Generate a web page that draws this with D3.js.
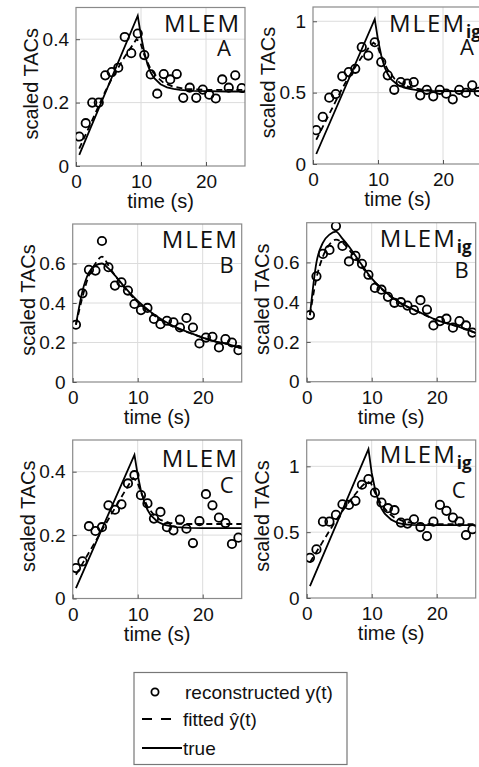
<!DOCTYPE html>
<html><head><meta charset="utf-8">
<script src="https://cdn.jsdelivr.net/npm/d3@7"></script>
<style>
html,body{margin:0;padding:0;background:#fff;overflow:hidden;}
svg{display:block;}
</style></head>
<body>
<svg id="chart" width="479" height="767"></svg>
<script>
// ---------- DATA ----------
const frameTimes = [0.5,1.5,2.5,3.5,4.5,5.5,6.5,7.5,8.5,9.5,10.5,11.5,12.5,13.5,14.5,15.5,16.5,17.5,18.5,19.5,20.5,21.5,22.5,23.5,24.5,25.5];
const xTicks = [0,10,20];

// reconstructed y(t)
const reconA_MLEM   = [0.093,0.135,0.20,0.20,0.286,0.296,0.31,0.407,0.356,0.418,0.35,0.289,0.228,0.29,0.273,0.29,0.215,0.247,0.215,0.241,0.225,0.213,0.273,0.247,0.286,0.246];
const reconA_MLEMig = [0.237,0.33,0.465,0.49,0.614,0.644,0.667,0.819,0.76,0.853,0.714,0.621,0.52,0.574,0.563,0.574,0.481,0.52,0.474,0.52,0.493,0.453,0.52,0.498,0.551,0.505];
const reconB_MLEM   = [0.29,0.449,0.568,0.564,0.714,0.581,0.488,0.505,0.463,0.395,0.364,0.375,0.319,0.293,0.31,0.302,0.276,0.324,0.276,0.195,0.225,0.229,0.175,0.217,0.2,0.161];
const reconB_MLEMig = [0.335,0.53,0.643,0.663,0.783,0.683,0.605,0.633,0.593,0.538,0.472,0.463,0.427,0.397,0.40,0.383,0.36,0.41,0.363,0.283,0.305,0.317,0.272,0.305,0.283,0.247];
const reconC_MLEM   = [0.096,0.117,0.228,0.213,0.225,0.294,0.28,0.297,0.363,0.389,0.326,0.30,0.252,0.273,0.225,0.215,0.249,0.22,0.175,0.244,0.329,0.294,0.255,0.238,0.172,0.192];
const reconC_MLEMig = [0.305,0.369,0.58,0.58,0.631,0.712,0.707,0.738,0.86,0.903,0.80,0.725,0.682,0.667,0.573,0.565,0.598,0.539,0.47,0.58,0.707,0.662,0.611,0.58,0.478,0.522];

// true curves (sharp peak for A and C)
const trueTimesAC = [0.5,9.5,10,10.5,11,11.5,12,13,14,15,16,18,20,23,26];
const trueA_MLEM   = [0.035,0.474,0.41,0.36,0.32,0.295,0.278,0.258,0.248,0.243,0.240,0.237,0.236,0.235,0.235];
const trueA_MLEMig = [0.07,1.015,0.87,0.76,0.68,0.63,0.595,0.555,0.535,0.525,0.518,0.512,0.51,0.51,0.51];
const trueC_MLEM   = [0.033,0.453,0.39,0.34,0.305,0.28,0.263,0.243,0.233,0.228,0.225,0.223,0.222,0.222,0.222];
const trueC_MLEMig = [0.09,1.13,0.95,0.83,0.74,0.68,0.64,0.595,0.57,0.56,0.556,0.553,0.553,0.553,0.553];
// B curves (smooth peak)
const curveTimesB = [0.5,1.5,2.5,3.5,4.5,5.5,6.5,8,10,12,14,16,18,20,22,24,26];
const trueB_MLEM    = [0.29,0.46,0.555,0.59,0.60,0.575,0.54,0.48,0.41,0.355,0.31,0.275,0.25,0.225,0.205,0.19,0.17];
const trueB_MLEMig  = [0.335,0.60,0.70,0.74,0.755,0.72,0.68,0.61,0.52,0.455,0.405,0.37,0.34,0.31,0.29,0.27,0.245];
const fitB_MLEM     = [0.29,0.43,0.54,0.60,0.635,0.59,0.54,0.475,0.405,0.35,0.305,0.272,0.248,0.225,0.205,0.19,0.17];
const fitB_MLEMig   = [0.335,0.52,0.63,0.69,0.715,0.70,0.665,0.60,0.515,0.452,0.403,0.368,0.338,0.31,0.29,0.27,0.245];
// fitted curves A and C
const fitTimesAC = [0.5,1.5,2.5,3.5,4.5,5.5,6.5,7.5,8.5,9.3,9.9,10.5,11.5,12.5,13.5,15,17,20,23,26];
const fitA_MLEM   = [0.055,0.10,0.145,0.19,0.235,0.275,0.31,0.345,0.375,0.40,0.39,0.35,0.305,0.28,0.262,0.25,0.243,0.24,0.24,0.24];
const fitA_MLEMig = [0.17,0.26,0.35,0.44,0.53,0.61,0.68,0.75,0.81,0.85,0.83,0.75,0.66,0.60,0.565,0.535,0.52,0.512,0.51,0.51];
const fitC_MLEM   = [0.075,0.11,0.145,0.18,0.215,0.25,0.285,0.32,0.355,0.38,0.37,0.335,0.29,0.263,0.248,0.238,0.235,0.235,0.235,0.235];
const fitC_MLEMig = [0.27,0.35,0.43,0.51,0.59,0.66,0.73,0.79,0.85,0.885,0.87,0.80,0.71,0.65,0.61,0.58,0.565,0.56,0.56,0.56];

const yTicksSmall = [0,0.2,0.4];
const yTicksB = [0,0.2,0.4,0.6];
const yTicksBig = [0,0.5,1];
const legendLabels = ["reconstructed y(t)", "fitted ŷ(t)", "true"];

// ---------- PANELS ----------
const panels = [
  {method:"MLEM", ig:false, letter:"A", left:76,    top:7.5,   bottom:166,   ymax:0.5,  yt:yTicksSmall, recon:reconA_MLEM,   tT:trueTimesAC, tV:trueA_MLEM,   fT:fitTimesAC, fV:fitA_MLEM,   smooth:false, tdx:88, tdy:24, ldx:148, ldy:48},
  {method:"MLEM", ig:true,  letter:"A", left:313,   top:7,     bottom:164,   ymax:1.1,  yt:yTicksBig,   recon:reconA_MLEMig, tT:trueTimesAC, tV:trueA_MLEMig, fT:fitTimesAC, fV:fitA_MLEMig, smooth:false, tdx:76, tdy:25, ldx:154, ldy:48},
  {method:"MLEM", ig:false, letter:"B", left:72.7,  top:224,   bottom:382,   ymax:0.8,  yt:yTicksB,     recon:reconB_MLEM,   tT:curveTimesB, tV:trueB_MLEM,   fT:curveTimesB, fV:fitB_MLEM,  smooth:true,  tdx:89, tdy:24, ldx:154, ldy:49},
  {method:"MLEM", ig:true,  letter:"B", left:306.7, top:222.7, bottom:381.7, ymax:0.8,  yt:yTicksB,     recon:reconB_MLEMig, tT:curveTimesB, tV:trueB_MLEMig, fT:curveTimesB, fV:fitB_MLEMig, smooth:true, tdx:73, tdy:24, ldx:155, ldy:55},
  {method:"MLEM", ig:false, letter:"C", left:72.7,  top:440,   bottom:598.5, ymax:0.5,  yt:yTicksSmall, recon:reconC_MLEM,   tT:trueTimesAC, tV:trueC_MLEM,   fT:fitTimesAC, fV:fitC_MLEM,   smooth:false, tdx:89, tdy:27, ldx:154, ldy:53},
  {method:"MLEM", ig:true,  letter:"C", left:306.7, top:440,   bottom:598,   ymax:1.2,  yt:yTicksBig,   recon:reconC_MLEMig, tT:trueTimesAC, tV:trueC_MLEMig, fT:fitTimesAC, fV:fitC_MLEMig, smooth:false, tdx:73, tdy:23, ldx:152, ldy:58}
];

const svg = d3.select("#chart");
const PW = 169;
const tickFont = "Liberation Sans, Arial, sans-serif";

panels.forEach((p, i) => {
  const x = d3.scaleLinear().domain([0,26]).range([p.left, p.left + PW]);
  const y = d3.scaleLinear().domain([0,p.ymax]).range([p.bottom, p.top]);
  const g = svg.append("g");
  const clipId = "clip" + i;
  svg.append("clipPath").attr("id", clipId).append("rect")
    .attr("x", p.left).attr("y", p.top).attr("width", PW).attr("height", p.bottom - p.top);

  // grid
  g.append("g").selectAll("line").data(xTicks.filter(d => d > 0)).join("line")
    .attr("x1", d => x(d)).attr("x2", d => x(d)).attr("y1", p.top).attr("y2", p.bottom)
    .attr("stroke", "#dcdcdc").attr("stroke-width", 1);
  g.append("g").selectAll("line").data(p.yt.filter(d => d > 0)).join("line")
    .attr("x1", p.left).attr("x2", p.left + PW).attr("y1", d => y(d)).attr("y2", d => y(d))
    .attr("stroke", "#dcdcdc").attr("stroke-width", 1);

  // box
  g.append("rect").attr("x", p.left).attr("y", p.top).attr("width", PW).attr("height", p.bottom - p.top)
    .attr("fill", "none").attr("stroke", "#8a8a8a").attr("stroke-width", 1.2);

  // axes (tick labels via d3 axes)
  const yAxis = d3.axisLeft(y).tickValues(p.yt).tickSize(-4).tickPadding(7).tickFormat(d3.format("~g"));
  const ya = g.append("g").attr("transform", `translate(${p.left},0)`).call(yAxis);
  ya.select(".domain").remove();
  ya.selectAll(".tick line").attr("stroke", "#555");
  ya.selectAll("text").attr("font-family", tickFont).attr("font-size", 19).attr("fill", "#111");

  const xAxis = d3.axisBottom(x).tickValues(xTicks).tickSize(-4).tickPadding(9).tickFormat(d3.format("d"));
  const xa = g.append("g").attr("transform", `translate(0,${p.bottom})`).call(xAxis);
  xa.select(".domain").remove();
  xa.selectAll(".tick line").attr("stroke", "#555");
  xa.selectAll("text").attr("font-family", tickFont).attr("font-size", 19).attr("fill", "#111");

  // axis labels
  g.append("text").attr("x", (p.left + p.left + PW) / 2).attr("y", p.bottom + 42)
    .attr("text-anchor", "middle").attr("font-family", tickFont).attr("font-size", 20).attr("fill", "#111")
    .text("time (s)");
  const ly = (p.top + p.bottom) / 2 - 3;
  g.append("text").attr("transform", `translate(${p.left - 38},${ly}) rotate(-90)`)
    .attr("text-anchor", "middle").attr("font-family", tickFont).attr("font-size", 20).attr("fill", "#111")
    .text("scaled TACs");

  // curves
  const data = g.append("g").attr("clip-path", `url(#${clipId})`);
  const line = d3.line().x(d => x(d[0])).y(d => y(d[1]))
    .curve(p.smooth ? d3.curveMonotoneX : d3.curveLinear);
  data.append("path").datum(p.fT.map((t, k) => [t, p.fV[k]]))
    .attr("d", line).attr("fill", "none").attr("stroke", "#000").attr("stroke-width", 1.8)
    .attr("stroke-dasharray", "6,4");
  data.append("path").datum(p.tT.map((t, k) => [t, p.tV[k]]))
    .attr("d", line).attr("fill", "none").attr("stroke", "#000").attr("stroke-width", 1.8);
  data.selectAll("circle").data(frameTimes.map((t, k) => [t, p.recon[k]])).join("circle")
    .attr("cx", d => x(d[0])).attr("cy", d => y(d[1])).attr("r", 4.2)
    .attr("fill", "none").attr("stroke", "#000").attr("stroke-width", 1.8);

  // title
  const tt = g.append("text").attr("x", p.left + p.tdx).attr("y", p.top + p.tdy)
    .attr("font-family", "Open Sans, sans-serif").attr("font-size", 24).attr("letter-spacing", 2)
    .attr("fill", "#111");
  tt.append("tspan").text(p.method);
  if (p.ig) {
    tt.append("tspan").attr("dy", 6).attr("font-size", 17).attr("font-weight", "bold")
      .attr("letter-spacing", 0).text("ig");
  }
  g.append("text").attr("x", p.left + p.ldx).attr("y", p.top + p.ldy).attr("text-anchor", "middle")
    .attr("font-family", "Open Sans, sans-serif").attr("font-size", 22).attr("fill", "#111")
    .text(p.letter);
});

// ---------- LEGEND ----------
const lg = svg.append("g");
lg.append("rect").attr("x", 134).attr("y", 672.5).attr("width", 213).attr("height", 92)
  .attr("fill", "#fff").attr("stroke", "#777").attr("stroke-width", 1.2);
const rowsY = [692, 719, 748];
lg.append("circle").attr("cx", 155).attr("cy", rowsY[0]).attr("r", 3.6)
  .attr("fill", "none").attr("stroke", "#000").attr("stroke-width", 1.8);
lg.append("line").attr("x1", 142).attr("x2", 172).attr("y1", rowsY[1]).attr("y2", rowsY[1])
  .attr("stroke", "#000").attr("stroke-width", 2).attr("stroke-dasharray", "10,9");
lg.append("line").attr("x1", 142).attr("x2", 182).attr("y1", rowsY[2]).attr("y2", rowsY[2])
  .attr("stroke", "#000").attr("stroke-width", 1.8);
lg.selectAll("text.lab").data(legendLabels).join("text").attr("class", "lab")
  .attr("x", (d, k) => k === 0 ? 185 : 183).attr("y", (d, k) => rowsY[k] + 7)
  .attr("font-family", tickFont).attr("font-size", 19).attr("fill", "#111")
  .text(d => d);
</script>
</body></html>
